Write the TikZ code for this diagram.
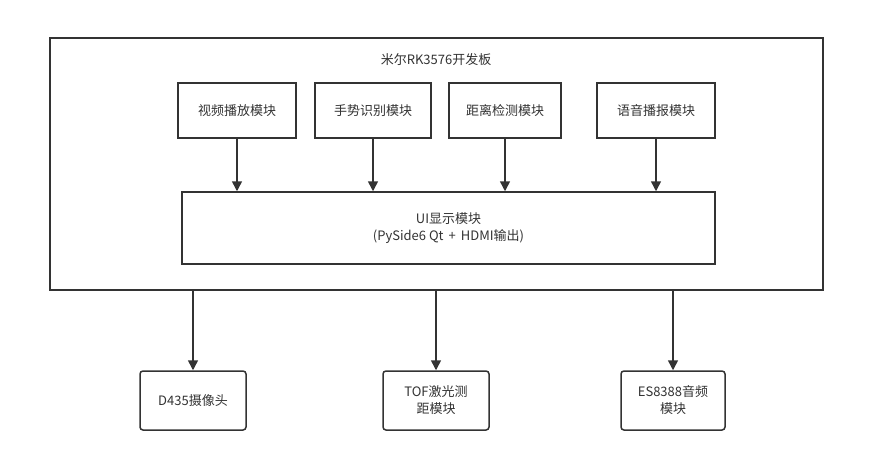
\documentclass[tikz,border=0pt]{standalone}
\usepackage{fontspec}
\setmainfont{Noto Sans CJK SC}
\usetikzlibrary{arrows.meta}
\definecolor{ln}{HTML}{333333}
\tikzset{
  box/.style={draw=ln, line width=1.5pt, fill=white, inner sep=0pt, font=\fontsize{13}{17}\selectfont, text=ln, align=center},
  rbox/.style={box, rounded corners=3pt},
  arr/.style={draw=ln, line width=1.5pt, -{Triangle[length=10pt,width=10pt]}},
  lbl/.style={font=\fontsize{13}{17}\selectfont, text=ln, inner sep=0pt}
}
\begin{document}
\begin{tikzpicture}[x=1pt,y=-1pt]
\useasboundingbox (0,0) rectangle (885,450);
\fill[white] (0,0) rectangle (885,450);
% outer board
\node[box, minimum width=773pt, minimum height=252pt, anchor=north west] (board) at (49,37) {};
\node[lbl] (title) at (436,60) {米尔RK3576开发板};
% top modules
\node[box, minimum width=118pt, minimum height=55pt] (m1) at (237,110.5) {视频播放模块};
\node[box, minimum width=116pt, minimum height=55pt] (m2) at (373,110.5) {手势识别模块};
\node[box, minimum width=112pt, minimum height=55pt] (m3) at (505,110.5) {距离检测模块};
\node[box, minimum width=118pt, minimum height=55pt] (m4) at (656,110.5) {语音播报模块};
% UI module
\node[box, minimum width=533pt, minimum height=72pt] (ui) at (448.5,228) {UI显示模块\\(PySide6 Qt \,+\, HDMI输出)};
\draw[arr] (m1.south) -- (m1.south |- ui.north);
\draw[arr] (m2.south) -- (m2.south |- ui.north);
\draw[arr] (m3.south) -- (m3.south |- ui.north);
\draw[arr] (m4.south) -- (m4.south |- ui.north);
% external modules
\node[rbox, minimum width=106pt, minimum height=59pt] (d435) at (193,400.5) {D435摄像头};
\node[rbox, minimum width=106pt, minimum height=59pt] (tof) at (436,400.5) {TOF激光测\\距模块};
\node[rbox, minimum width=104pt, minimum height=59pt] (es) at (673,400.5) {ES8388音频\\模块};
\draw[arr] (board.south -| d435.north) -- (d435.north);
\draw[arr] (board.south -| tof.north) -- (tof.north);
\draw[arr] (board.south -| es.north) -- (es.north);
\end{tikzpicture}
\end{document}
